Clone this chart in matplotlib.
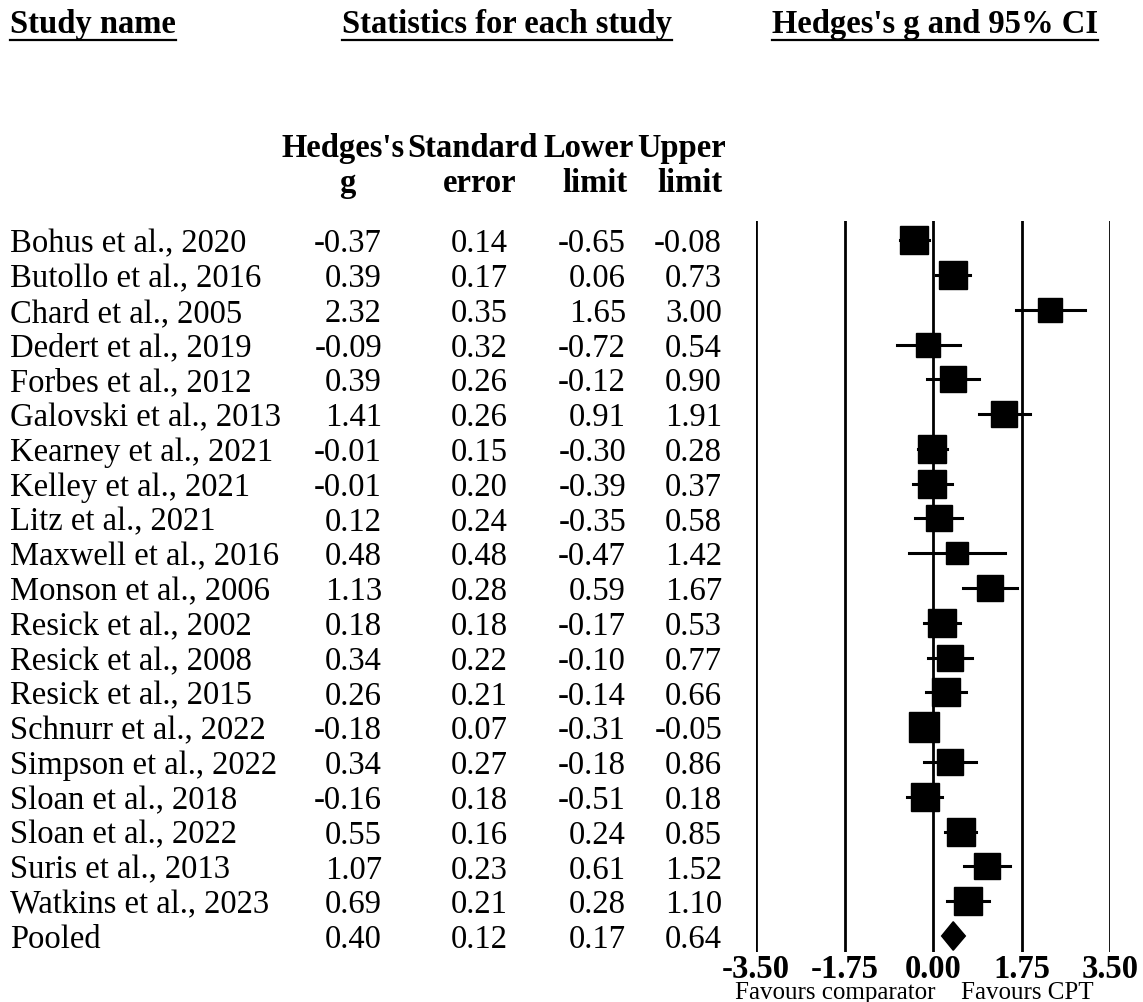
import numpy as np
import matplotlib
matplotlib.use("Agg")
import matplotlib.pyplot as plt
from matplotlib.transforms import blended_transform_factory
from matplotlib.patches import Polygon

plt.rcParams['font.family'] = ['Liberation Serif', 'DejaVu Serif']

studies = ["Bohus et al., 2020", "Butollo et al., 2016", "Chard et al., 2005",
           "Dedert et al., 2019", "Forbes et al., 2012", "Galovski et al., 2013",
           "Kearney et al., 2021", "Kelley et al., 2021", "Litz et al., 2021",
           "Maxwell et al., 2016", "Monson et al., 2006", "Resick et al., 2002",
           "Resick et al., 2008", "Resick et al., 2015", "Schnurr et al., 2022",
           "Simpson et al., 2022", "Sloan et al., 2018", "Sloan et al., 2022",
           "Suris et al., 2013", "Watkins et al., 2023"]
g = [-0.37, 0.39, 2.32, -0.09, 0.39, 1.41, -0.01, -0.01, 0.12, 0.48,
     1.13, 0.18, 0.34, 0.26, -0.18, 0.34, -0.16, 0.55, 1.07, 0.69]
se = [0.14, 0.17, 0.35, 0.32, 0.26, 0.26, 0.15, 0.20, 0.24, 0.48,
      0.28, 0.18, 0.22, 0.21, 0.07, 0.27, 0.18, 0.16, 0.23, 0.21]
lower = [-0.65, 0.06, 1.65, -0.72, -0.12, 0.91, -0.30, -0.39, -0.35, -0.47,
         0.59, -0.17, -0.10, -0.14, -0.31, -0.18, -0.51, 0.24, 0.61, 0.28]
upper = [-0.08, 0.73, 3.00, 0.54, 0.90, 1.91, 0.28, 0.37, 0.58, 1.42,
         1.67, 0.53, 0.77, 0.66, -0.05, 0.86, 0.18, 0.85, 1.52, 1.10]
pooled = {"g": 0.40, "se": 0.12, "lower": 0.17, "upper": 0.64}
xticks = [-3.50, -1.75, 0.00, 1.75, 3.50]

W, H = 1143, 1003
fig = plt.figure(figsize=(W / 100, H / 100), dpi=100)

# forest plot area
ax = fig.add_axes([756 / W, 1 - 953 / H, (1110 - 756) / W, (953 - 222) / H])
n = len(studies)
ax.set_xlim(-3.5, 3.5)
ax.set_ylim(n + 0.46, -0.55)
for s in ax.spines.values():
    s.set_visible(False)
ax.set_yticks([])
ax.set_xticks(xticks)
ax.set_xticklabels(["%.2f" % t for t in xticks], fontsize=23.5, fontweight='bold')
ax.tick_params(axis='x', length=0, pad=1)
for t in xticks:
    ax.axvline(t, color='black', lw=2)

# square size from random-effects style weights
se_arr = np.array(se)
w = 1 / (se_arr ** 2 + 0.25)
sizes = 21 * np.sqrt(w / w.max())
rows = np.arange(n)
for i in range(n):
    ax.plot([lower[i], upper[i]], [rows[i], rows[i]], color='black', lw=2.2, zorder=2)
    ax.plot(g[i], rows[i], marker='s', color='black', markersize=sizes[i],
            linestyle='none', zorder=3)

dh = 0.41
ax.add_patch(Polygon([(pooled["lower"], n), (pooled["g"], n - dh),
                      (pooled["upper"], n), (pooled["g"], n + dh)],
                     closed=True, color='black', zorder=3))

# text columns
tr = blended_transform_factory(fig.transFigure, ax.transData)
fs = 23.5
all_names = studies + ["Pooled"]
all_g = g + [pooled["g"]]
all_se = se + [pooled["se"]]
all_lo = lower + [pooled["lower"]]
all_up = upper + [pooled["upper"]]
for i in range(n + 1):
    y = i + 0.32
    ax.text(10 / W, y, all_names[i], transform=tr, fontsize=fs, ha='left', va='baseline')
    ax.text(382 / W, y, "%.2f" % all_g[i], transform=tr, fontsize=fs, ha='right', va='baseline')
    ax.text(508 / W, y, "%.2f" % all_se[i], transform=tr, fontsize=fs, ha='right', va='baseline')
    ax.text(626 / W, y, "%.2f" % all_lo[i], transform=tr, fontsize=fs, ha='right', va='baseline')
    ax.text(722 / W, y, "%.2f" % all_up[i], transform=tr, fontsize=fs, ha='right', va='baseline')

def ftext(x, y, s, **kw):
    return fig.text(x / W, 1 - y / H, s, fontsize=kw.pop('fontsize', fs), va='baseline', **kw)

heads = [ftext(10, 33, "Study name", ha='left', fontweight='bold'),
         ftext(507, 33, "Statistics for each study", ha='center', fontweight='bold'),
         ftext(935, 33, "Hedges's g and 95% CI", ha='center', fontweight='bold')]

ftext(343, 157, "Hedges's", ha='center', fontweight='bold')
ftext(472, 157, "Standard", ha='center', fontweight='bold')
ftext(589, 157, "Lower", ha='center', fontweight='bold')
ftext(682, 157, "Upper", ha='center', fontweight='bold')
ftext(347, 192, "g", ha='center', fontweight='bold')
ftext(480, 192, "error", ha='center', fontweight='bold')
ftext(595, 192, "limit", ha='center', fontweight='bold')
ftext(690, 192, "limit", ha='center', fontweight='bold')

ftext(835, 999, "Favours comparator", ha='center', fontsize=18)
ftext(1027, 999, "Favours CPT", ha='center', fontsize=18)

# underline the top headings
fig.canvas.draw()
r = fig.canvas.get_renderer()
for t in heads:
    bb = t.get_window_extent(renderer=r)
    yl = 1 - 41 / H
    fig.add_artist(plt.Line2D([bb.x0 / W, bb.x1 / W], [yl, yl], color='black',
                              lw=1.6, transform=fig.transFigure))

fig.savefig("out.png", dpi=100)
